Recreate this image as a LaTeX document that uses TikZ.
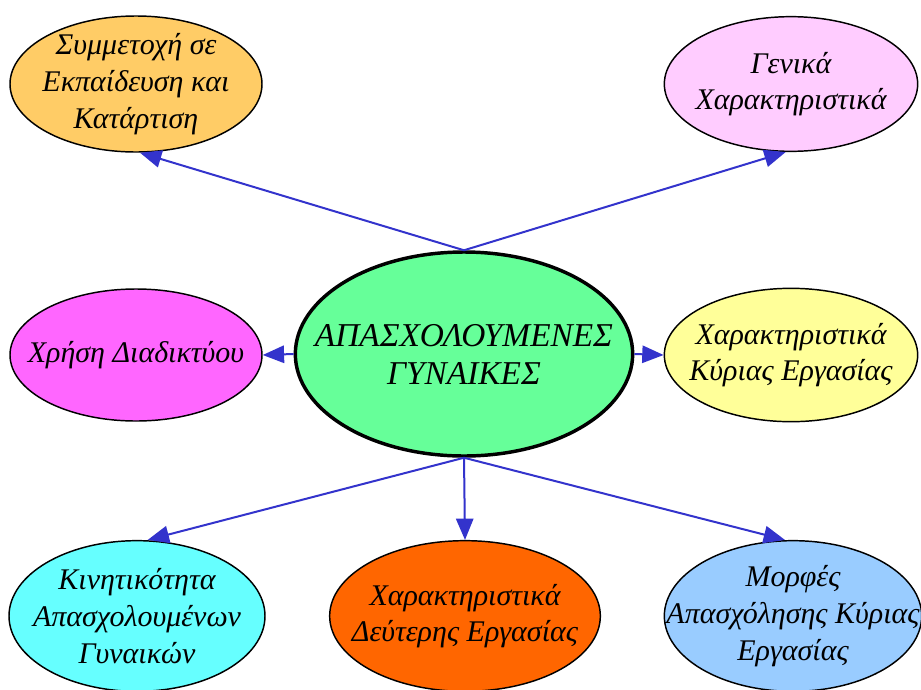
\documentclass[tikz,border=0pt]{standalone}
\usepackage{fontspec}
\setmainfont{Liberation Serif}
\usetikzlibrary{shapes.geometric,arrows.meta}
\definecolor{arrowblue}{HTML}{3333CC}
\definecolor{cOrange}{HTML}{FFCC66}
\definecolor{cPink}{HTML}{FFCCFF}
\definecolor{cMagenta}{HTML}{FF66FF}
\definecolor{cGreen}{HTML}{66FF99}
\definecolor{cYellow}{HTML}{FFFF99}
\definecolor{cCyan}{HTML}{66FFFF}
\definecolor{cDeepOrange}{HTML}{FF6600}
\definecolor{cBlue}{HTML}{99CCFF}
\begin{document}
\begin{tikzpicture}[x=0.75pt,y=-0.75pt,
  bub/.style={ellipse, draw=black, line width=1.1pt, inner sep=0pt},
  bubtext/.style={align=center, inner sep=0pt, font=\fontsize{22.5}{27.5}\selectfont\itshape},
  hub/.style={ellipse, draw=black, line width=2.6pt, inner sep=0pt,
    minimum width=253pt, minimum height=153pt},
  hubtext/.style={align=center, inner sep=0pt, font=\fontsize{25}{28.5}\selectfont\itshape},
  link/.style={draw=arrowblue, line width=1.5pt, -{Triangle[length=16pt,width=13pt]}}]
\useasboundingbox (0,0) rectangle (921,689);

\node[hub, fill=cGreen, label={[hubtext]center:ΑΠΑΣΧΟΛΟΥΜΕΝΕΣ\\ΓΥΝΑΙΚΕΣ}] (c) at (464,354) {};

\node[bub, fill=cOrange, minimum width=189pt, minimum height=102pt,
  label={[bubtext]center:Συμμετοχή σε\\Εκπαίδευση και\\Κατάρτιση}] (tl) at (136,84) {};
\node[bub, fill=cPink, minimum width=190pt, minimum height=101pt,
  label={[bubtext]center:Γενικά\\Χαρακτηριστικά}] (tr) at (791,84) {};
\node[bub, fill=cMagenta, minimum width=189pt, minimum height=99pt,
  label={[bubtext]center:Χρήση Διαδικτύου}] (l) at (136,355) {};
\node[bub, fill=cYellow, minimum width=190pt, minimum height=100pt,
  label={[bubtext]center:Χαρακτηριστικά\\Κύριας Εργασίας}] (r) at (791,355) {};
\node[bub, fill=cCyan, minimum width=192pt, minimum height=113pt,
  label={[bubtext]center:Κινητικότητα\\Απασχολουμένων\\Γυναικών}] (bl) at (137,616) {};
\node[bub, fill=cDeepOrange, minimum width=203pt, minimum height=113pt,
  label={[bubtext]center:Χαρακτηριστικά\\Δεύτερης Εργασίας}] (bm) at (465,616) {};
\node[bub, fill=cBlue, minimum width=193pt, minimum height=113pt,
  label={[bubtext]center:Μορφές\\Απασχόλησης Κύριας\\Εργασίας}] (br) at (793,616) {};

\draw[link] (c.north) -- ([xshift=3pt]tl.south);
\draw[link] (c.north) -- ([xshift=-4pt]tr.south);
\draw[link] (c.west) -- (l.east);
\draw[link] (c.east) -- (r.west);
\draw[link] (c.south) -- ([xshift=8pt]bl.north);
\draw[link] (c.south) -- (bm.north);
\draw[link] (c.south) -- ([xshift=-6pt]br.north);
\end{tikzpicture}
\end{document}
